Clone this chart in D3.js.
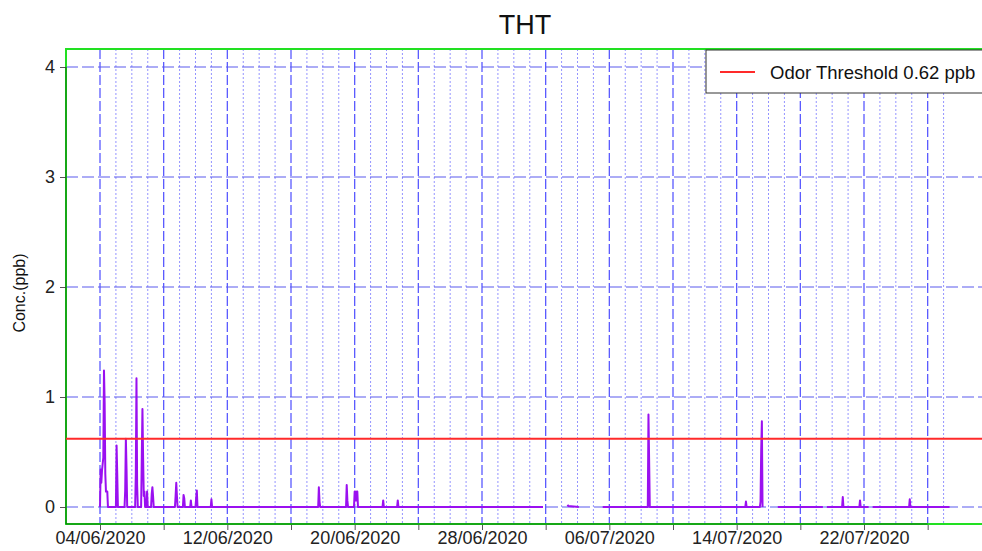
<!DOCTYPE html>
<html>
<head>
<meta charset="utf-8">
<script src="https://cdn.jsdelivr.net/npm/d3@7"></script>
<style>
  html, body { margin: 0; padding: 0; background: #fff; }
  svg { display: block; font-family: "Liberation Sans", Arial, sans-serif; }
</style>
</head>
<body>
<svg id="chart" width="982" height="551"></svg>
<script>
// ---- data ----
const title = "THT";
const yLabel = "Conc.(ppb)";
const legendLabel = "Odor Threshold 0.62 ppb";
const threshold = 0.62;
const yTicks = [0, 1, 2, 3, 4];
const xLabelDates = ["2020-06-04", "2020-06-12", "2020-06-20", "2020-06-28", "2020-07-06", "2020-07-14", "2020-07-22"];
const gridStart = "2020-06-04";
const gridEnd = "2020-07-27";

// hourly concentration readings (null = no data)
const times = [
  "2020-06-04T00:00","2020-06-04T01:00","2020-06-04T02:00","2020-06-04T03:00","2020-06-04T05:00","2020-06-04T06:00","2020-06-04T07:00","2020-06-04T08:00","2020-06-04T09:00","2020-06-04T11:00","2020-06-04T12:00",
  "2020-06-05T00:00","2020-06-05T01:00","2020-06-05T02:00","2020-06-05T03:00",
  "2020-06-05T13:00","2020-06-05T14:00","2020-06-05T15:00","2020-06-05T16:00","2020-06-05T17:00",
  "2020-06-06T05:00","2020-06-06T06:00","2020-06-06T07:00","2020-06-06T08:00","2020-06-06T09:00",
  "2020-06-06T14:00","2020-06-06T15:00","2020-06-06T16:00","2020-06-06T17:00","2020-06-06T18:00","2020-06-06T19:00","2020-06-06T20:00",
  "2020-06-06T22:00","2020-06-06T23:00","2020-06-07T00:00",
  "2020-06-07T05:00","2020-06-07T06:00","2020-06-07T07:00","2020-06-07T08:00","2020-06-07T09:00",
  "2020-06-08T17:00","2020-06-08T18:00","2020-06-08T19:00","2020-06-08T20:00","2020-06-08T21:00",
  "2020-06-09T05:00","2020-06-09T06:00","2020-06-09T07:00","2020-06-09T08:00",
  "2020-06-09T16:00","2020-06-09T17:00","2020-06-09T18:00",
  "2020-06-10T00:00","2020-06-10T01:00","2020-06-10T02:00","2020-06-10T03:00",
  "2020-06-10T23:00","2020-06-11T00:00","2020-06-11T01:00",
  "2020-06-17T17:00","2020-06-17T18:00","2020-06-17T19:00","2020-06-17T20:00",
  "2020-06-19T11:00","2020-06-19T12:00","2020-06-19T13:00","2020-06-19T14:00",
  "2020-06-19T23:00","2020-06-20T00:00","2020-06-20T01:00","2020-06-20T02:00","2020-06-20T03:00","2020-06-20T04:00","2020-06-20T05:00",
  "2020-06-21T18:00","2020-06-21T19:00","2020-06-21T20:00",
  "2020-06-22T16:00","2020-06-22T17:00","2020-06-22T18:00",
  "2020-07-01T20:00","2020-07-02T00:00",
  "2020-07-03T09:00","2020-07-03T10:00","2020-07-04T02:00","2020-07-04T05:00",
  "2020-07-05T14:00",
  "2020-07-08T10:00","2020-07-08T11:00","2020-07-08T12:00","2020-07-08T13:00",
  "2020-07-14T13:00","2020-07-14T14:00","2020-07-14T15:00",
  "2020-07-15T11:00","2020-07-15T12:00","2020-07-15T13:00","2020-07-15T14:00","2020-07-15T15:00","2020-07-15T18:00",
  "2020-07-16T14:00","2020-07-19T10:00","2020-07-19T13:00","2020-07-19T16:00",
  "2020-07-20T15:00","2020-07-20T16:00","2020-07-20T17:00",
  "2020-07-21T17:00","2020-07-21T18:00","2020-07-21T19:00",
  "2020-07-22T07:00","2020-07-22T10:00","2020-07-22T13:00",
  "2020-07-24T20:00","2020-07-24T21:00","2020-07-24T22:00",
  "2020-07-27T09:00"
];
const values = [
  0,0.34,0.22,0.33,0.45,1.24,0.95,0.30,0.14,0.14,0,
  0,0.56,0.30,0,
  0,0.15,0.62,0.35,0,
  0,0.30,1.17,0.20,0,
  0,0.45,0.89,0.45,0.10,0.14,0,
  0,0.14,0,
  0,0.12,0.18,0.10,0,
  0,0.10,0.22,0.10,0,
  0,0.11,0.08,0,
  0,0.06,0,
  0,0.08,0.15,0,
  0,0.07,0,
  0,0.18,0.05,0,
  0,0.20,0.06,0,
  0,0.14,0.06,0.14,0.06,0.14,0,
  0,0.06,0,
  0,0.06,0,
  0,null,
  0.02,0.01,0,null,
  0,
  0,0.84,0.43,0,
  0,0.05,0,
  0,0.05,0.52,0.78,0,null,
  0,0,null,0,
  0,0.09,0,
  0,0.06,0,
  0,null,0,
  0,0.07,0,
  0
];

// ---- layout ----
const svg = d3.select("#chart");
const W = 982, H = 551;
const plot = { left: 66, top: 49, right: 990, bottom: 524 };
const parse = d3.utcParse("%Y-%m-%dT%H:%M");
const parseDay = d3.utcParse("%Y-%m-%d");
const fmt = d3.utcFormat("%d/%m/%Y");

const x = d3.scaleUtc()
  .domain([parseDay("2020-06-04"), parseDay("2020-07-22")])
  .range([100, 864]);
const y = d3.scaleLinear().domain([0, 4]).range([507, 67]);

const data = times.map((t, i) => ({ t: parse(t), v: values[i] }));

const g0 = parseDay(gridStart), g1 = parseDay(gridEnd);
const minorDays = d3.utcDay.range(g0, d3.utcDay.offset(g1, 1));
const majorDays = minorDays.filter((d, i) => i % 4 === 0);

// minor vertical grid (dotted)
svg.append("g").selectAll("line").data(minorDays.filter((d, i) => i % 4 !== 0)).join("line")
  .attr("x1", d => x(d)).attr("x2", d => x(d))
  .attr("y1", plot.top).attr("y2", plot.bottom)
  .attr("stroke", "#9494ff").attr("stroke-width", 1).attr("stroke-dasharray", "2,2");

// major vertical grid (dashed)
svg.append("g").selectAll("line").data(majorDays).join("line")
  .attr("x1", d => x(d)).attr("x2", d => x(d))
  .attr("y1", plot.top).attr("y2", plot.bottom)
  .attr("stroke", "#5a5aff").attr("stroke-width", 1.3).attr("stroke-dasharray", "10,3");

// horizontal grid (dashed)
svg.append("g").selectAll("line").data(yTicks).join("line")
  .attr("x1", plot.left).attr("x2", W)
  .attr("y1", d => y(d)).attr("y2", d => y(d))
  .attr("stroke", "#5a5aee").attr("stroke-width", 1.2).attr("stroke-dasharray", "12,4");

// green frame
const green = "#22e022";
svg.append("line").attr("x1", plot.left).attr("x2", plot.left).attr("y1", plot.top - 1).attr("y2", plot.bottom + 1)
  .attr("stroke", green).attr("stroke-width", 2);
svg.append("line").attr("x1", plot.left).attr("x2", W).attr("y1", plot.top).attr("y2", plot.top)
  .attr("stroke", green).attr("stroke-width", 2);
svg.append("line").attr("x1", plot.left).attr("x2", W).attr("y1", plot.bottom).attr("y2", plot.bottom)
  .attr("stroke", green).attr("stroke-width", 2);

// axes (darker overlay lines and ticks)
const xAxis = d3.axisBottom(x).tickValues(majorDays).tickSize(6)
  .tickFormat(d => xLabelDates.includes(d3.utcFormat("%Y-%m-%d")(d)) ? fmt(d) : "");
const gx = svg.append("g").attr("transform", `translate(0,${plot.bottom})`).call(xAxis);
gx.select(".domain").remove();
gx.append("line").attr("x1", plot.left).attr("x2", x(majorDays[majorDays.length - 1]))
  .attr("stroke", "rgba(0,60,0,0.35)").attr("stroke-width", 2);
gx.selectAll(".tick line").attr("stroke", "#555").attr("y1", 1);
gx.selectAll(".tick text").attr("fill", "#222").attr("font-size", 18)
  .attr("font-family", "Liberation Sans, Arial, sans-serif").attr("dy", "0.9em").attr("y", 4);

const yAxis = d3.axisLeft(y).tickValues(yTicks).tickSize(6).tickFormat(d3.format("d"));
const gy = svg.append("g").attr("transform", `translate(${plot.left},0)`).call(yAxis);
gy.select(".domain").remove();
gy.append("line").attr("x1", 0).attr("x2", 0).attr("y1", y(4)).attr("y2", plot.bottom)
  .attr("stroke", "rgba(0,60,0,0.35)").attr("stroke-width", 2);
gy.selectAll(".tick line").attr("stroke", "#555");
gy.selectAll(".tick text").attr("fill", "#222").attr("font-size", 18)
  .attr("font-family", "Liberation Sans, Arial, sans-serif").attr("x", -11);

// data line
const line = d3.line().defined(d => d.v != null).x(d => x(d.t)).y(d => y(d.v));
svg.append("path").datum(data).attr("d", line)
  .attr("fill", "none").attr("stroke", "#9a10f0").attr("stroke-width", 2).attr("stroke-linejoin", "round");

// threshold line
svg.append("line").attr("x1", plot.left).attr("x2", W)
  .attr("y1", y(threshold)).attr("y2", y(threshold))
  .attr("stroke", "#ff2a2a").attr("stroke-width", 2);

// title
svg.append("text").attr("x", 525).attr("y", 34).attr("text-anchor", "middle")
  .attr("font-size", 27).attr("fill", "#111").text(title);

// y label
svg.append("text").attr("transform", "translate(25,293) rotate(-90)").attr("text-anchor", "middle")
  .attr("font-size", 16).attr("fill", "#111").text(yLabel);

// legend
const lg = svg.append("g");
lg.append("rect").attr("x", 706).attr("y", 50).attr("width", 290).attr("height", 43)
  .attr("fill", "#fff").attr("stroke", "#333").attr("stroke-width", 1);
lg.append("line").attr("x1", 720).attr("x2", 755).attr("y1", 72).attr("y2", 72)
  .attr("stroke", "#ff2a2a").attr("stroke-width", 2);
lg.append("text").attr("x", 770).attr("y", 79).attr("font-size", 18.5).attr("fill", "#111").text(legendLabel);
</script>
</body>
</html>
